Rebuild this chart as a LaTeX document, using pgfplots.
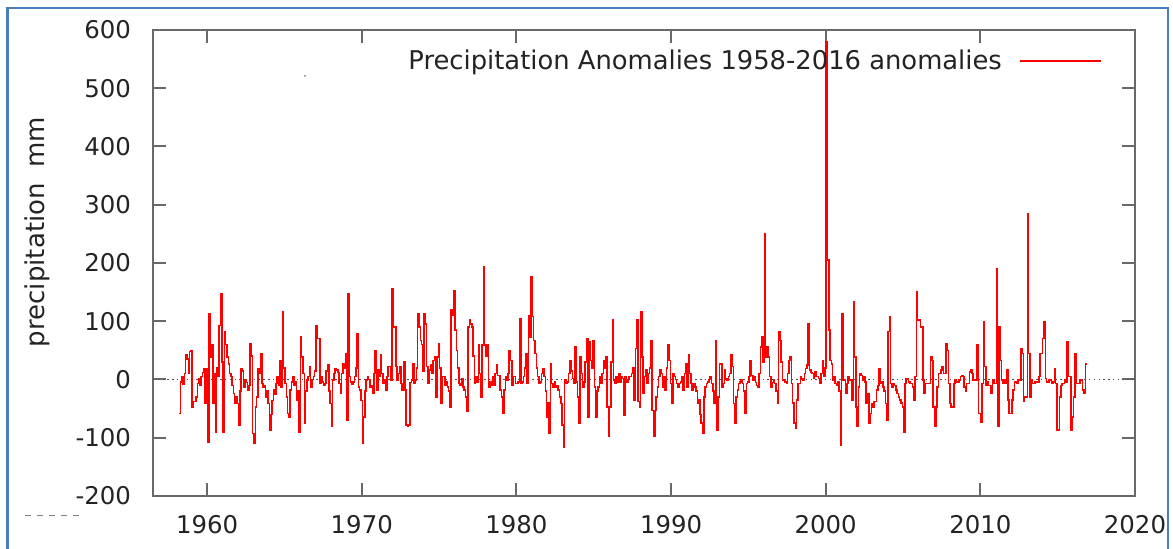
\documentclass[border=0pt]{standalone}
\usepackage{fontspec}
\setmainfont{DejaVu Sans}
\usepackage{pgfplots}
\usepackage{pgfplotstable}
\pgfplotsset{compat=1.18}

\definecolor{frameblue}{RGB}{74,126,187}
\definecolor{axisgray}{RGB}{105,105,105}
\definecolor{textgray}{RGB}{35,35,35}

% monthly anomalies (mm), 1958-2016
\pgfplotstableread[row sep=\\]{
p\\%
-58\\-4\\5\\-8\\10\\42\\35\\10\\48\\50\\-47\\-38\\%
-38\\-30\\-7\\2\\-10\\5\\12\\19\\-41\\19\\-107\\113\\%
39\\60\\-41\\10\\-90\\20\\5\\93\\148\\30\\-90\\82\\%
60\\39\\27\\10\\5\\-10\\-24\\-41\\-30\\-41\\-78\\-20\\%
19\\15\\-13\\0\\-5\\-18\\-10\\62\\40\\-93\\-110\\-47\\%
-30\\19\\10\\45\\-7\\-13\\-10\\-30\\-20\\-41\\-87\\-60\\%
-36\\-18\\-25\\-7\\5\\-10\\33\\-13\\116\\20\\-7\\-30\\%
-58\\-64\\-18\\-4\\5\\-10\\-4\\-36\\-20\\-90\\73\\39\\%
10\\-75\\-20\\-1\\5\\22\\-13\\0\\5\\15\\93\\70\\%
70\\-7\\5\\-4\\-10\\-7\\15\\25\\-20\\-41\\-81\\-1\\%
10\\19\\16\\12\\-7\\-24\\10\\27\\20\\45\\-70\\148\\%
5\\-4\\-8\\-4\\5\\20\\79\\-13\\-18\\-36\\-110\\-64\\%
-20\\-1\\5\\0\\-13\\-10\\-24\\10\\50\\-18\\16\\5\\%
42\\10\\-7\\-1\\-18\\5\\22\\22\\-1\\156\\90\\90\\%
22\\-1\\10\\22\\-7\\-18\\30\\-18\\-78\\-81\\-78\\-5\\%
-1\\27\\-7\\-1\\20\\113\\90\\67\\60\\15\\113\\95\\%
22\\-7\\16\\25\\10\\33\\39\\-30\\39\\62\\20\\-41\\%
5\\5\\-10\\-4\\-13\\-20\\-47\\119\\110\\153\\85\\50\\%
20\\-7\\-10\\2\\-13\\-18\\-30\\-55\\90\\102\\95\\90\\%
40\\-7\\5\\-4\\59\\10\\-30\\59\\193\\59\\40\\59\\%
-13\\-4\\-10\\5\\-10\\10\\25\\7\\7\\-18\\-30\\-58\\%
-18\\5\\-1\\10\\50\\33\\-10\\5\\5\\-7\\-7\\-4\\%
105\\-7\\-4\\5\\20\\45\\-7\\110\\73\\176\\108\\67\\%
45\\20\\5\\-7\\-4\\10\\19\\5\\-20\\-64\\-40\\-93\\%
27\\-7\\-13\\-4\\-13\\-10\\-18\\-30\\-41\\-78\\-116\\-1\\%
-7\\-4\\10\\33\\15\\2\\-7\\56\\-4\\-30\\-75\\39\\%
10\\-13\\-4\\30\\70\\-64\\65\\33\\20\\67\\-13\\-64\\%
-20\\-13\\5\\-7\\10\\33\\20\\39\\-47\\-98\\-47\\30\\%
102\\-1\\-7\\5\\-4\\10\\-4\\5\\2\\-61\\5\\-4\\%
0\\5\\5\\10\\20\\-35\\53\\102\\-38\\-47\\116\\39\\%
-24\\5\\16\\-7\\10\\20\\67\\-53\\-98\\-53\\-30\\-13\\%
5\\16\\10\\-13\\5\\-18\\20\\59\\33\\-7\\-41\\10\\%
5\\0\\-7\\-13\\-7\\-4\\5\\-18\\10\\27\\-13\\42\\%
10\\-7\\-18\\-7\\-13\\-20\\-41\\-35\\-60\\-75\\-93\\-30\\%
-13\\-7\\-4\\0\\5\\-7\\-20\\-41\\67\\-87\\-30\\27\\%
27\\-13\\-7\\16\\2\\-1\\5\\10\\42\\22\\-41\\-75\\%
-30\\-18\\-7\\-4\\-1\\-7\\-20\\-58\\-7\\-4\\5\\33\\%
7\\-1\\5\\-5\\-10\\-13\\10\\56\\73\\30\\250\\39\\%
56\\39\\5\\-13\\-5\\-1\\-7\\-20\\-41\\82\\67\\30\\%
-1\\-1\\-4\\-7\\10\\33\\39\\-7\\-40\\-75\\-84\\-35\\%
-7\\-7\\5\\2\\-1\\10\\19\\25\\96\\16\\12\\10\\%
2\\13\\5\\5\\2\\-7\\10\\33\\5\\20\\580\\205\\%
85\\33\\27\\-1\\5\\-7\\-10\\-4\\-20\\-113\\113\\-1\\%
-1\\-24\\-7\\5\\-1\\0\\-35\\133\\39\\-47\\-81\\-13\\%
10\\7\\-1\\5\\-4\\-41\\-24\\-75\\-58\\-41\\-47\\-38\\%
-38\\-18\\-10\\19\\-7\\-4\\-13\\-20\\-41\\-70\\82\\108\\%
-7\\-13\\-7\\-10\\-18\\-24\\-30\\-35\\-40\\-47\\-90\\-7\\%
1\\1\\-4\\-7\\-7\\-13\\-35\\5\\150\\102\\102\\90\\%
90\\-1\\-24\\-7\\-7\\-7\\-7\\39\\33\\-47\\-81\\-47\\%
-13\\10\\10\\16\\22\\10\\10\\62\\50\\-7\\-41\\-47\\%
-47\\-7\\-1\\-4\\-4\\-1\\5\\7\\5\\-13\\-21\\-7\\%
-7\\13\\16\\10\\-1\\-1\\-1\\59\\-58\\-58\\-73\\-7\\%
99\\22\\-10\\-4\\-10\\-10\\-24\\-1\\-7\\-7\\190\\-81\\%
90\\33\\-1\\-7\\-1\\-7\\16\\-35\\-58\\-58\\-35\\-18\\%
-4\\-4\\-7\\-1\\-1\\53\\45\\-38\\-30\\-30\\285\\45\\%
-30\\-1\\-7\\-7\\-4\\-4\\-4\\5\\45\\45\\70\\99\\%
2\\-4\\-4\\-1\\-1\\-7\\-4\\19\\-7\\-87\\-87\\-30\\%
-10\\-7\\-7\\-1\\-4\\65\\5\\5\\-87\\-64\\-30\\45\\%
-7\\-7\\-7\\-1\\-1\\-18\\-24\\27\\27\\%
}\precip

\begin{document}
\begin{tikzpicture}
\useasboundingbox (0,0) rectangle (586.5pt,274.5pt);
% picture frame
\draw[frameblue, line width=1.1pt] (3.75pt,-1pt) -- (3.75pt,270.5pt) -- (584pt,270.5pt) -- (584pt,-1pt);
\draw[gray, dashed, line width=0.4pt] (12.5pt,17pt) -- (40pt,17pt);
\fill[gray] (152.5pt,236.5pt) circle (0.5pt);

\begin{axis}[
    at={(76.5pt,26.5pt)}, anchor=south west,
    scale only axis,
    width=491pt, height=233pt,
    xmin=1956.5, xmax=2020,
    ymin=-200, ymax=600,
    xtick={1960,1970,...,2020},
    ytick={-200,-100,...,600},
    xtick pos=both, ytick pos=both,
    tick align=inside,
    major tick length=6.5pt,
    axis line style={axisgray, line width=1pt},
    every major tick/.append style={axisgray, line width=1pt},
    /pgf/number format/1000 sep={},
    /pgf/number format/assume math mode=true,
    ticklabel style={font=\fontsize{12.2}{14}\selectfont, text=textgray},
    xticklabel style={yshift=-6pt},
    yticklabel style={xshift=-7.5pt},
    legend plot pos=right,
    legend image code/.code={\path[draw=none] (0pt,0pt) -- (7pt,0pt);
        \draw[#1] (7pt,0pt) -- (47.5pt,0pt);},
    legend style={draw=none, fill=none, at={(rel axis cs:1,1)}, anchor=east,
        xshift=-16.5pt, yshift=-15.5pt, inner sep=0pt,
        font=\fontsize{12.9}{15}\selectfont, text=textgray},
]
\addplot[black!70, line width=0.8pt, dash pattern=on 0.7pt off 1.7pt, forget plot]
    coordinates {(1956.5,0) (2020,0)};
\addplot[red, line width=0.75pt, const plot]
    table[x expr=1958.2+\coordindex/12, y=p] {\precip};
\legend{Precipitation Anomalies 1958-2016 anomalies}
\end{axis}

\node[rotate=90, font=\fontsize{13}{15}\selectfont, text=textgray] at (18.5pt,158.5pt)
    {precipitation\hspace{0.6em}mm};
\end{tikzpicture}
\end{document}
